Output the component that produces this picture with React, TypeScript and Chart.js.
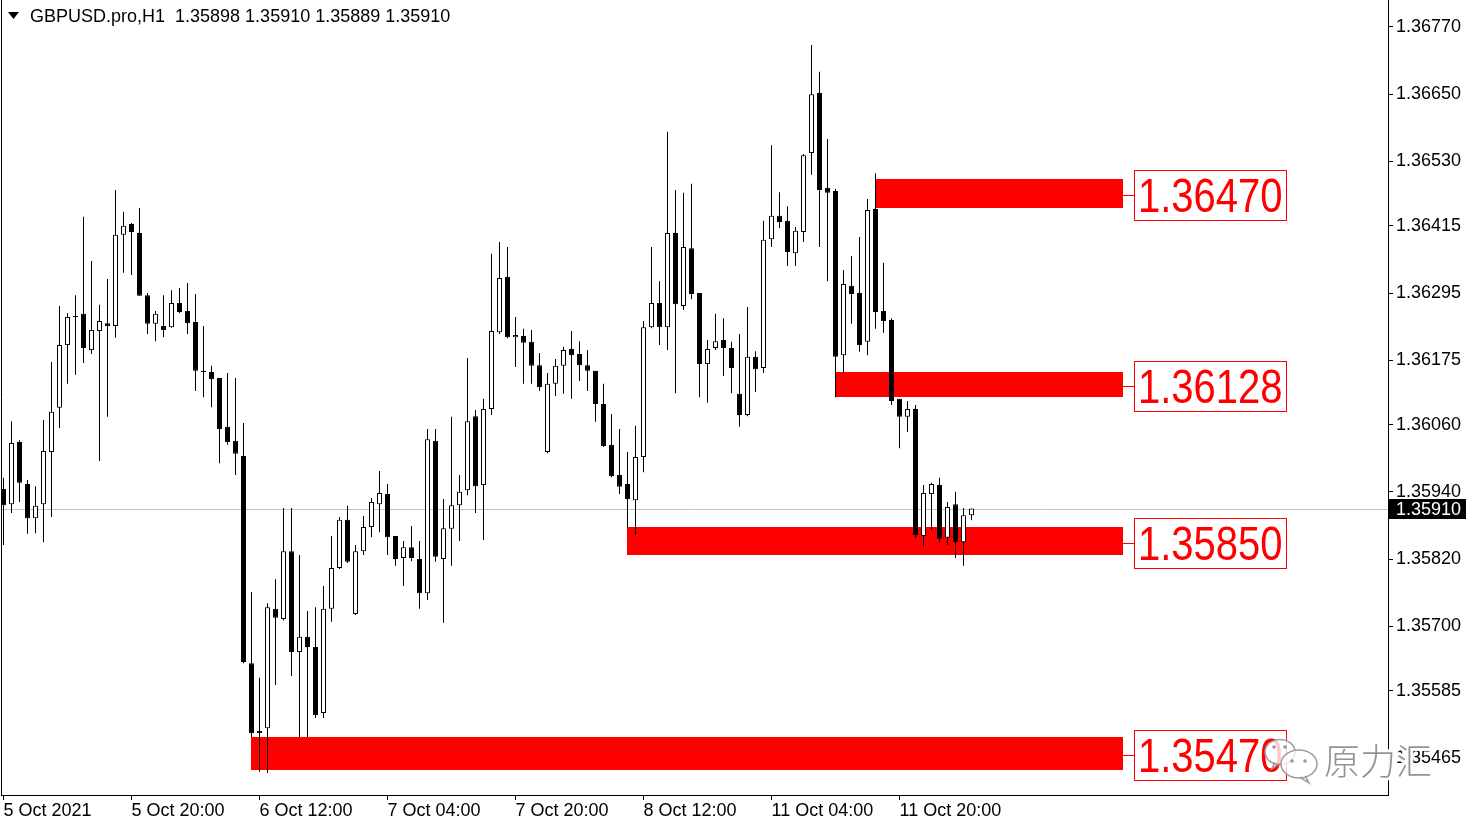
import React, { useEffect, useRef } from "react";
import { Chart, registerables } from "chart.js";
Chart.register(...registerables);

// ---- Data (GBPUSD H1) ----
const opens = [
  1.35945, 1.35918, 1.36029, 1.35954, 1.35893, 1.35918, 1.36011, 1.36090, 1.36202, 1.36252,
  1.36258, 1.36193, 1.36227, 1.36241, 1.36236, 1.36399, 1.36418, 1.36402, 1.36291, 1.36240,
  1.36236, 1.36234, 1.36277, 1.36263, 1.36243, 1.36156, 1.36154, 1.36143, 1.36056, 1.36031,
  1.36004, 1.35634, 1.35513, 1.35518, 1.35731, 1.35713, 1.35834, 1.35654, 1.35681, 1.35663,
  1.35545, 1.35731, 1.35804, 1.35890, 1.35722, 1.35834, 1.35877, 1.35918, 1.35936, 1.35861,
  1.35822, 1.35841, 1.35820, 1.35759, 1.36031, 1.35820, 1.35874, 1.35916, 1.35943, 1.36075,
  1.35952, 1.36088, 1.36225, 1.36324, 1.36216, 1.36218, 1.36208, 1.36166, 1.36011, 1.36133,
  1.36165, 1.36195, 1.36186, 1.36166, 1.36156, 1.36097, 1.36024, 1.35970, 1.35954, 1.35925,
  1.36002, 1.36234, 1.36277, 1.36234, 1.36402, 1.36272, 1.36375, 1.36295, 1.36168, 1.36197,
  1.36211, 1.36197, 1.36115, 1.36077, 1.36181, 1.36161, 1.36391, 1.36433, 1.36424, 1.36366,
  1.36404, 1.36545, 1.36652, 1.36483, 1.36477, 1.36184, 1.36308, 1.36295, 1.36208, 1.36445,
  1.36263, 1.36247, 1.36106, 1.36074, 1.36088, 1.35861, 1.35936, 1.35952, 1.35858, 1.35918,
  1.35850, 1.35898,
];
const highs = [
  1.35965, 1.36066, 1.36032, 1.35961, 1.35950, 1.36068, 1.36172, 1.36272, 1.36259, 1.36291,
  1.36431, 1.36352, 1.36274, 1.36320, 1.36479, 1.36440, 1.36420, 1.36447, 1.36295, 1.36263,
  1.36291, 1.36300, 1.36304, 1.36313, 1.36293, 1.36236, 1.36165, 1.36143, 1.36152, 1.36143,
  1.36063, 1.35761, 1.35608, 1.35741, 1.35784, 1.35911, 1.35911, 1.35827, 1.35727, 1.35734,
  1.35772, 1.35861, 1.35895, 1.35915, 1.35845, 1.35897, 1.35929, 1.35977, 1.35954, 1.35861,
  1.35852, 1.35879, 1.35852, 1.36052, 1.36052, 1.35927, 1.36074, 1.35970, 1.36179, 1.36086,
  1.36106, 1.36365, 1.36386, 1.36377, 1.36252, 1.36231, 1.36229, 1.36188, 1.36152, 1.36177,
  1.36199, 1.36227, 1.36209, 1.36193, 1.36156, 1.36133, 1.36079, 1.36052, 1.36011, 1.36058,
  1.36245, 1.36377, 1.36316, 1.36583, 1.36479, 1.36474, 1.36490, 1.36295, 1.36211, 1.36258,
  1.36250, 1.36208, 1.36222, 1.36270, 1.36191, 1.36424, 1.36559, 1.36475, 1.36450, 1.36413,
  1.36543, 1.36738, 1.36690, 1.36570, 1.36481, 1.36336, 1.36361, 1.36395, 1.36463, 1.36509,
  1.36349, 1.36250, 1.36106, 1.36102, 1.36095, 1.35952, 1.35956, 1.35965, 1.35922, 1.35940,
  1.35911, 1.35910,
];
const lows = [
  1.35845, 1.35902, 1.35922, 1.35865, 1.35866, 1.35850, 1.35895, 1.36054, 1.36133, 1.36149,
  1.36170, 1.36186, 1.35995, 1.36074, 1.36215, 1.36331, 1.36327, 1.36290, 1.36222, 1.36209,
  1.36216, 1.36233, 1.36259, 1.36222, 1.36120, 1.36109, 1.36091, 1.35991, 1.36024, 1.35970,
  1.35634, 1.35502, 1.35440, 1.35438, 1.35595, 1.35710, 1.35611, 1.35502, 1.35502, 1.35536,
  1.35536, 1.35708, 1.35802, 1.35813, 1.35720, 1.35827, 1.35859, 1.35868, 1.35827, 1.35808,
  1.35772, 1.35816, 1.35731, 1.35747, 1.35815, 1.35706, 1.35808, 1.35852, 1.35934, 1.35902,
  1.35854, 1.36077, 1.36222, 1.36214, 1.36163, 1.36133, 1.36133, 1.36120, 1.36009, 1.36111,
  1.36115, 1.36106, 1.36138, 1.36120, 1.36065, 1.36020, 1.35966, 1.35936, 1.35875, 1.35863,
  1.35975, 1.36232, 1.36202, 1.36193, 1.36116, 1.36265, 1.36284, 1.36109, 1.36099, 1.36193,
  1.36147, 1.36116, 1.36056, 1.36075, 1.36118, 1.36152, 1.36377, 1.36411, 1.36343, 1.36343,
  1.36386, 1.36506, 1.36377, 1.36316, 1.36109, 1.36152, 1.36240, 1.36190, 1.36184, 1.36231,
  1.36224, 1.36095, 1.36018, 1.36047, 1.35858, 1.35841, 1.35872, 1.35849, 1.35845, 1.35822,
  1.35808, 1.35889,
];
const closes = [
  1.35916, 1.36027, 1.35956, 1.35893, 1.35915, 1.36013, 1.36083, 1.36202, 1.36252, 1.36254,
  1.36197, 1.36229, 1.36245, 1.36236, 1.36399, 1.36415, 1.36404, 1.36290, 1.36240, 1.36258,
  1.36229, 1.36277, 1.36261, 1.36241, 1.36156, 1.36154, 1.36141, 1.36052, 1.36029, 1.36008,
  1.35636, 1.35509, 1.35509, 1.35734, 1.35715, 1.35834, 1.35654, 1.35681, 1.35663, 1.35541,
  1.35731, 1.35804, 1.35890, 1.35815, 1.35834, 1.35877, 1.35922, 1.35938, 1.35859, 1.35820,
  1.35841, 1.35822, 1.35759, 1.36034, 1.35824, 1.35875, 1.35916, 1.35940, 1.36066, 1.35950,
  1.36088, 1.36227, 1.36322, 1.36216, 1.36220, 1.36206, 1.36165, 1.36127, 1.36133, 1.36165,
  1.36193, 1.36184, 1.36166, 1.36156, 1.36097, 1.36022, 1.35968, 1.35949, 1.35927, 1.36002,
  1.36234, 1.36277, 1.36234, 1.36402, 1.36275, 1.36377, 1.36293, 1.36168, 1.36195, 1.36209,
  1.36197, 1.36161, 1.36077, 1.36181, 1.36159, 1.36390, 1.36433, 1.36422, 1.36368, 1.36406,
  1.36541, 1.36650, 1.36479, 1.36474, 1.36181, 1.36311, 1.36293, 1.36202, 1.36443, 1.36261,
  1.36245, 1.36102, 1.36074, 1.36088, 1.35863, 1.35938, 1.35954, 1.35856, 1.35913, 1.35850,
  1.35898, 1.35910,
];

const xTickIndex = [0, 16, 32, 48, 64, 80, 96, 112];
const xTickLabels = [
  "5 Oct 2021", "5 Oct 20:00", "6 Oct 12:00", "7 Oct 04:00",
  "7 Oct 20:00", "8 Oct 12:00", "11 Oct 04:00", "11 Oct 20:00",
];
const yTickValues = [
  1.3677, 1.3665, 1.3653, 1.36415, 1.36295, 1.36175,
  1.3606, 1.3594, 1.3582, 1.357, 1.35585, 1.35465,
];

// support / resistance zones
const zoneStart = [109, 104, 78, 31];
const zoneEnd = [140, 140, 140, 140];
const zoneTop = [1.36499, 1.36154, 1.35877, 1.35502];
const zoneBottom = [1.36447, 1.36109, 1.35827, 1.35443];
const zoneLabels = ["1.36470", "1.36128", "1.35850", "1.35470"];

const symbolTitle = "GBPUSD.pro,H1";
const watermarkText = "原力汇";

const FONT = "'Liberation Sans', Arial, sans-serif";

export default function App() {
  const canvasRef = useRef<HTMLCanvasElement | null>(null);

  useEffect(() => {
    const canvas = canvasRef.current;
    if (!canvas) return;
    const last = closes.length - 1;

    const wickData = highs.map((h, i) => ({ x: i, y: [lows[i], h] }));
    const bodyData = opens.map((o, i) => ({
      x: i,
      y: [Math.min(o, closes[i]), Math.max(o, closes[i])],
    }));
    const bodyColors = opens.map((o, i) => (closes[i] >= o ? "#ffffff" : "#000000"));

    const overlay = {
      id: "overlay",
      beforeDraw(chart: any) {
        const { ctx, width, height } = chart;
        ctx.save();
        ctx.fillStyle = "#ffffff";
        ctx.fillRect(0, 0, width, height);
        ctx.restore();
      },
      beforeDatasetsDraw(chart: any) {
        const { ctx, chartArea: a, scales } = chart;
        const xs = scales.x;
        const ys = scales.y;
        ctx.save();
        // current price line
        const py = Math.round(ys.getPixelForValue(closes[last])) + 0.5;
        ctx.strokeStyle = "#c0c0c0";
        ctx.lineWidth = 1;
        ctx.beginPath();
        ctx.moveTo(a.left, py);
        ctx.lineTo(a.right, py);
        ctx.stroke();
        // zones
        ctx.fillStyle = "#ff0000";
        for (let k = 0; k < zoneStart.length; k++) {
          const x0 = Math.floor(xs.getPixelForValue(zoneStart[k]));
          const x1 = Math.floor(xs.getPixelForValue(zoneEnd[k]));
          const y0 = Math.round(ys.getPixelForValue(zoneTop[k]));
          const y1 = Math.round(ys.getPixelForValue(zoneBottom[k]));
          ctx.fillRect(x0, y0, x1 - x0, y1 - y0);
        }
        ctx.restore();
      },
      afterDraw(chart: any) {
        const { ctx, chartArea: a, scales } = chart;
        const xs = scales.x;
        const ys = scales.y;
        ctx.save();
        // left frame line
        ctx.strokeStyle = "#000";
        ctx.lineWidth = 1;
        ctx.beginPath();
        ctx.moveTo(a.left + 0.5, a.top);
        ctx.lineTo(a.left + 0.5, a.bottom);
        ctx.stroke();

        // zone labels
        for (let k = 0; k < zoneStart.length; k++) {
          const xe = Math.floor(xs.getPixelForValue(zoneEnd[k]));
          const yc =
            (ys.getPixelForValue(zoneTop[k]) + ys.getPixelForValue(zoneBottom[k])) / 2 + 1.5;
          const bx = xe + 11;
          const bw = 152;
          const bh = 50;
          const by = Math.round(yc - bh / 2);
          ctx.strokeStyle = "#ff0000";
          ctx.lineWidth = 1;
          ctx.beginPath();
          ctx.moveTo(xe, Math.round(yc) + 0.5);
          ctx.lineTo(bx, Math.round(yc) + 0.5);
          ctx.stroke();
          ctx.strokeRect(bx + 0.5, by + 0.5, bw, bh);
          ctx.save();
          ctx.translate(bx + 4, yc);
          ctx.scale(1, 1.2);
          ctx.font = "40px " + FONT;
          ctx.fillStyle = "#ff0000";
          ctx.textAlign = "left";
          ctx.textBaseline = "alphabetic";
          ctx.fillText(zoneLabels[k], 0, 14.3);
          ctx.restore();
        }

        // current price box
        const py = Math.round(ys.getPixelForValue(closes[last]));
        ctx.fillStyle = "#000";
        ctx.fillRect(a.right + 1, py - 10, 77, 20);
        ctx.fillStyle = "#fff";
        ctx.font = "18px " + FONT;
        ctx.textBaseline = "middle";
        ctx.textAlign = "left";
        ctx.fillText(closes[last].toFixed(5), a.right + 8, py + 1);

        // title
        ctx.fillStyle = "#000";
        ctx.beginPath();
        ctx.moveTo(8, 12);
        ctx.lineTo(19, 12);
        ctx.lineTo(13.5, 19);
        ctx.closePath();
        ctx.fill();
        ctx.font = "18px " + FONT;
        ctx.textBaseline = "middle";
        const title =
          symbolTitle +
          "  " +
          [opens[last], highs[last], lows[last], closes[last]].map((v) => v.toFixed(5)).join(" ");
        ctx.fillText(title, 30, 17);

        // watermark icon
        const bubble = (cx: number, cy: number, rx: number, ry: number, tailDir: number) => {
          ctx.beginPath();
          ctx.ellipse(cx, cy, rx, ry, 0, 0, Math.PI * 2);
          ctx.fillStyle = "rgba(255,255,255,0.78)";
          ctx.fill();
          ctx.strokeStyle = "rgba(150,150,150,0.9)";
          ctx.lineWidth = 1.6;
          ctx.stroke();
          ctx.beginPath();
          ctx.moveTo(cx + tailDir * rx * 0.35, cy + ry * 0.85);
          ctx.lineTo(cx + tailDir * rx * 0.55, cy + ry * 1.35);
          ctx.lineTo(cx + tailDir * rx * 0.05, cy + ry * 0.95);
          ctx.stroke();
        };
        bubble(1280, 752, 15, 12.5, -1);
        bubble(1299, 764, 18, 14, 1);
        ctx.fillStyle = "rgba(140,140,140,0.9)";
        [
          [1274, 747],
          [1285, 747],
          [1292, 761],
          [1305, 761],
        ].forEach(([ex, ey]) => {
          ctx.beginPath();
          ctx.arc(ex, ey, 1.8, 0, Math.PI * 2);
          ctx.fill();
        });

        // watermark text
        ctx.font = "300 36px 'Noto Sans CJK SC', sans-serif";
        ctx.textBaseline = "middle";
        ctx.lineJoin = "round";
        ctx.strokeStyle = "rgba(255,255,255,0.95)";
        ctx.lineWidth = 6;
        ctx.strokeText(watermarkText, 1324, 761);
        ctx.fillStyle = "rgba(128,128,128,0.85)";
        ctx.fillText(watermarkText, 1324, 761);
        ctx.restore();
      },
    };

    const chart = new Chart(canvas, {
      type: "bar",
      data: {
        datasets: [
          {
            label: "body",
            data: bodyData as any,
            backgroundColor: bodyColors,
            borderColor: "#000000",
            borderWidth: 1,
            borderSkipped: false,
            barThickness: 5,
            minBarLength: 1,
            grouped: false,
            inflateAmount: 0,
            order: 0,
          } as any,
          {
            label: "wick",
            data: wickData as any,
            backgroundColor: "#000000",
            borderWidth: 0,
            barThickness: 1,
            grouped: false,
            inflateAmount: 0,
            order: 1,
          } as any,
        ],
      },
      options: {
        animation: false,
        responsive: false,
        maintainAspectRatio: false,
        events: [],
        layout: { padding: { left: 1, top: 0, right: 0, bottom: 0 } },
        plugins: {
          legend: { display: false },
          tooltip: { enabled: false },
          title: { display: false },
        },
        scales: {
          x: {
            type: "linear",
            position: "bottom",
            min: -0.3125,
            max: 173.0625,
            offset: false,
            grid: {
              offset: false,
              drawOnChartArea: false,
              drawTicks: true,
              tickLength: 5,
              color: "#000000",
            },
            border: { display: true, color: "#000000" },
            ticks: {
              align: "start",
              maxRotation: 0,
              autoSkip: false,
              padding: 0,
              color: "#000000",
              font: { family: FONT, size: 18 },
              callback: (v: any) => {
                const k = xTickIndex.indexOf(Number(v));
                return k >= 0 ? xTickLabels[k] : "";
              },
            },
            afterBuildTicks: (s: any) => {
              s.ticks = xTickIndex.map((v) => ({ value: v }));
            },
            afterFit: (s: any) => {
              s.height = 32;
              s.paddingLeft = 0;
              s.paddingRight = 0;
            },
          } as any,
          y: {
            type: "linear",
            position: "right",
            min: 1.353986,
            max: 1.368182,
            beginAtZero: false,
            grid: {
              drawOnChartArea: false,
              drawTicks: true,
              tickLength: 5,
              color: "#000000",
            },
            border: { display: true, color: "#000000" },
            ticks: {
              padding: 3,
              color: "#000000",
              font: { family: FONT, size: 18 },
              callback: (v: any) => Number(v).toFixed(5),
            },
            afterBuildTicks: (s: any) => {
              s.ticks = yTickValues.map((v) => ({ value: v }));
            },
            afterFit: (s: any) => {
              s.width = 91;
              s.paddingTop = 0;
              s.paddingBottom = 0;
            },
          } as any,
        },
      },
      plugins: [overlay],
    });

    return () => {
      chart.destroy();
    };
  }, []);

  return (
    <div style={{ position: "absolute", left: 0, top: 0, width: 1479, height: 827 }}>
      <canvas ref={canvasRef} width={1479} height={827} style={{ display: "block" }} />
    </div>
  );
}
